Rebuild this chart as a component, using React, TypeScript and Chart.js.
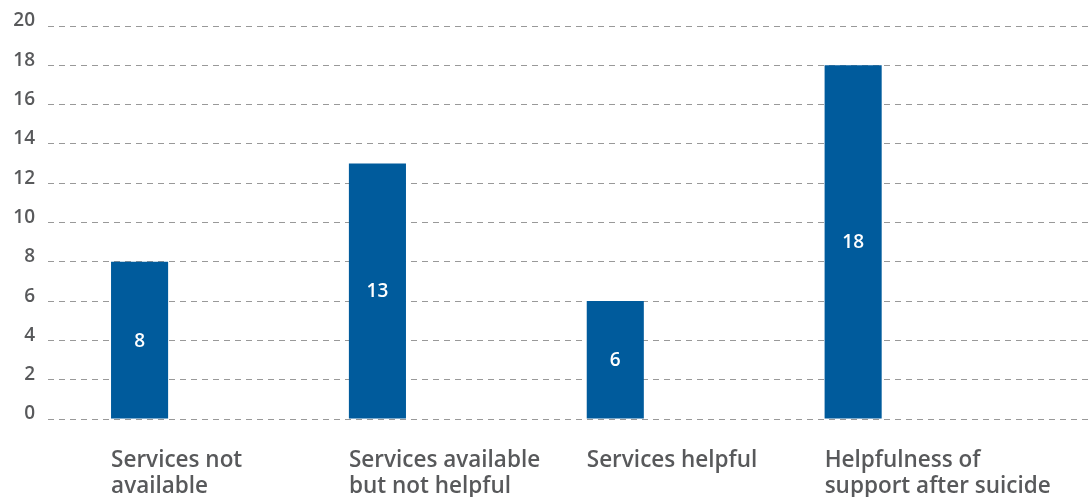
import React, { useEffect, useRef } from 'react';
import { Chart, registerables } from 'chart.js';

Chart.register(...registerables);

const categories: string[][] = [
  ['Services not', 'available'],
  ['Services available', 'but not helpful'],
  ['Services helpful'],
  ['Helpfulness of', 'support after suicide'],
];
const values: number[] = [8, 13, 6, 18];
const yMin = 0;
const yMax = 20;
const yStep = 2;

const BAR_COLOR = '#005b9c';
const TEXT_COLOR = '#58595b';
const FONT = "'Open Sans', sans-serif";

const barLabels = {
  id: 'barLabels',
  afterDatasetsDraw(chart: any) {
    const ctx = chart.ctx;
    const meta = chart.getDatasetMeta(0);
    ctx.save();
    ctx.fillStyle = '#ffffff';
    ctx.font = `600 19px ${FONT}`;
    ctx.textAlign = 'center';
    ctx.textBaseline = 'middle';
    meta.data.forEach((bar: any, i: number) => {
      const y = (bar.y + bar.base) / 2 + 1;
      ctx.fillText(String(values[i]), bar.x, y);
    });
    ctx.restore();
  },
};

export default function App() {
  const canvasRef = useRef<HTMLCanvasElement | null>(null);

  useEffect(() => {
    const canvas = canvasRef.current;
    if (!canvas) return;
    const chart = new Chart(canvas, {
      type: 'bar',
      data: {
        datasets: [
          {
            data: values.map((v, i) => ({ x: i, y: v })),
            backgroundColor: BAR_COLOR,
            borderWidth: 0,
            barPercentage: 0.24,
            categoryPercentage: 1,
          },
        ],
      },
      options: {
        responsive: false,
        animation: false,
        layout: { padding: { left: 0, right: 0, top: 26, bottom: 0 } },
        plugins: {
          legend: { display: false },
          tooltip: { enabled: false },
        },
        scales: {
          x: {
            type: 'linear',
            min: -0.385,
            max: 4,
            offset: false,
            grid: { display: false, drawTicks: false, offset: false },
            border: { display: false },
            afterBuildTicks: (axis: any) => {
              axis.ticks = categories.map((_, i) => ({ value: i }));
            },
            afterFit: (axis: any) => {
              axis.paddingLeft = 0;
              axis.paddingRight = 0;
              axis.height = 78;
            },
            ticks: {
              autoSkip: false,
              maxRotation: 0,
              minRotation: 0,
              align: 'start',
              labelOffset: -28.5,
              padding: 29,
              color: TEXT_COLOR,
              font: { family: FONT, size: 22.5, weight: '600', lineHeight: '26px' },
              callback: (value: any) => categories[value as number] ?? '',
            },
          },
          y: {
            min: yMin,
            max: yMax,
            afterFit: (axis: any) => {
              axis.width = 48;
            },
            grid: {
              color: '#999999',
              lineWidth: 1,
              drawTicks: false,
            },
            border: { display: false, dash: [6, 5] },
            ticks: {
              stepSize: yStep,
              padding: 13,
              labelOffset: -5,
              color: TEXT_COLOR,
              font: { family: FONT, size: 19, weight: '600' },
            },
          },
        },
      },
      plugins: [barLabels],
    } as any);
    return () => chart.destroy();
  }, []);

  return (
    <div style={{ position: 'absolute', left: 0, top: 0, width: 1091, height: 497 }}>
      <canvas ref={canvasRef} width={1091} height={497} />
    </div>
  );
}
